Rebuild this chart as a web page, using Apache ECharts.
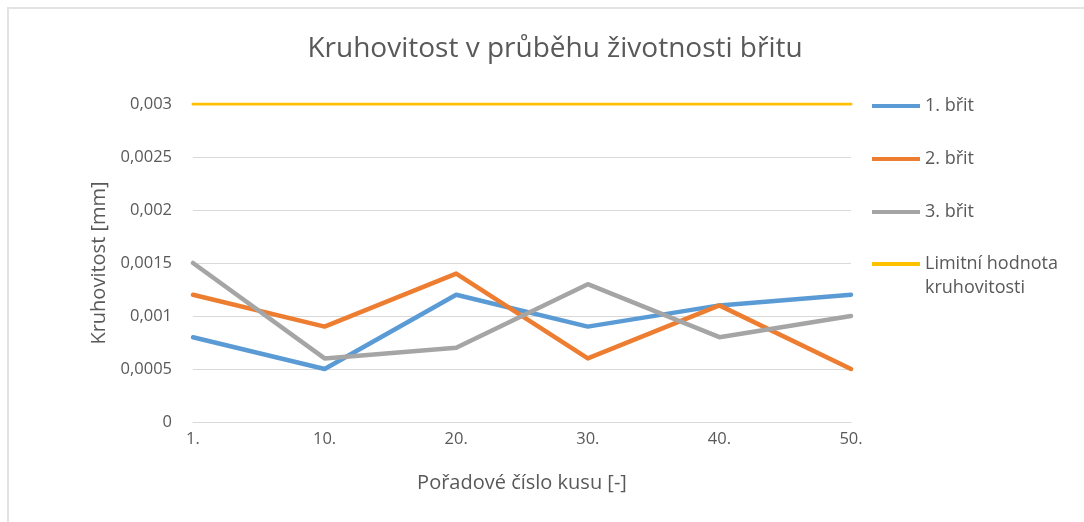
<!DOCTYPE html>
<html>
<head>
<meta charset="utf-8">
<script src="https://cdn.jsdelivr.net/npm/echarts@6/dist/echarts.min.js"></script>
<style>
  html, body { margin: 0; padding: 0; background: #fff; }
  #frame { position: absolute; left: 7px; top: 7px; width: 1077px; height: 515px;
           border-left: 2px solid #e3e3e3; border-top: 2px solid #e3e3e3; box-sizing: border-box; }
  #chart { position: absolute; left: 0; top: 0; width: 1084px; height: 522px; }
</style>
</head>
<body>
<div id="frame"></div>
<div id="chart"></div>
<script>
// Piece order numbers along the x axis
const categories = ['1.', '10.', '20.', '30.', '40.', '50.'];

// Roundness [mm] measured for each cutting edge
const edge1 = [0.0008, 0.0005, 0.0012, 0.0009, 0.0011, 0.0012];
const edge2 = [0.0012, 0.0009, 0.0014, 0.0006, 0.0011, 0.0005];
const edge3 = [0.0015, 0.0006, 0.0007, 0.0013, 0.0008, 0.0010];
const limit = [0.003, 0.003, 0.003, 0.003, 0.003, 0.003];

const seriesNames = ['1. břit', '2. břit', '3. břit', 'Limitní hodnota kruhovitosti'];
const seriesColors = ['#5B9BD5', '#ED7D31', '#A5A5A5', '#FFC000'];

const FONT = '"Open Sans", "Noto Sans", sans-serif';
const TXT = '#595959';

const chart = echarts.init(document.getElementById('chart'), null, { renderer: 'canvas' });

const fmtNum = v => parseFloat(Number(v).toFixed(6)).toString().replace('.', ',');

const mkLine = (name, data, color, width) => ({
  name, type: 'line', data,
  symbol: 'none',
  lineStyle: { color, width, cap: 'round', join: 'round' },
  itemStyle: { color },
  emphasis: { disabled: true },
  animation: false
});

const legendBase = {
  orient: 'vertical',
  left: 872,
  padding: 0,
  itemWidth: 48, itemHeight: 4, itemGap: 29,
  icon: 'rect',
  selectedMode: false,
  textStyle: { fontFamily: FONT, fontSize: 18, color: TXT, lineHeight: 24 }
};

chart.setOption({
  backgroundColor: 'transparent',
  textStyle: { fontFamily: FONT },
  title: {
    text: 'Kruhovitost v průběhu životnosti břitu',
    left: 550, top: 30, textAlign: 'center',
    textStyle: { fontFamily: FONT, fontSize: 28, fontWeight: 'normal', color: TXT }
  },
  legend: [
    Object.assign({}, legendBase, {
      top: 94,
      data: seriesNames.slice(0, 3)
    }),
    // second line of the limit label hangs below its key
    Object.assign({}, legendBase, {
      top: 228,
      data: [seriesNames[3]],
      formatter: () => '\nLimitní hodnota\nkruhovitosti'
    })
  ],
  grid: { left: 193, right: 233, top: 104, bottom: 100 },
  xAxis: {
    type: 'category',
    data: categories,
    boundaryGap: false,
    name: 'Pořadové číslo kusu [-]',
    nameLocation: 'middle',
    nameGap: 51,
    nameTextStyle: { fontFamily: FONT, fontSize: 20, color: TXT },
    axisLine: { lineStyle: { color: '#d9d9d9', width: 1 } },
    axisTick: { show: false },
    axisLabel: { fontFamily: FONT, fontSize: 16.5, color: TXT, margin: 9 },
    splitLine: { show: false }
  },
  yAxis: {
    type: 'value',
    min: 0, max: 0.003, interval: 0.0005,
    name: 'Kruhovitost [mm]',
    nameLocation: 'middle',
    nameGap: 84,
    nameTextStyle: { fontFamily: FONT, fontSize: 20, color: TXT },
    axisLine: { show: false },
    axisTick: { show: false },
    axisLabel: { fontFamily: FONT, fontSize: 16.5, color: TXT, margin: 21, formatter: fmtNum },
    splitLine: { lineStyle: { color: '#d9d9d9', width: 1 } }
  },
  series: [
    mkLine(seriesNames[0], edge1, seriesColors[0], 4.5),
    mkLine(seriesNames[1], edge2, seriesColors[1], 4.5),
    mkLine(seriesNames[2], edge3, seriesColors[2], 4.5),
    mkLine(seriesNames[3], limit, seriesColors[3], 3)
  ]
});
</script>
</body>
</html>
